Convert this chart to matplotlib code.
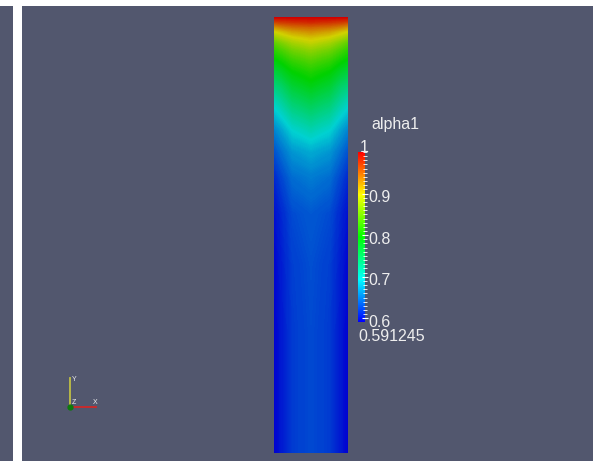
import numpy as np
import matplotlib
matplotlib.use("Agg")
import matplotlib.pyplot as plt
from matplotlib.colors import ListedColormap, Normalize, hsv_to_rgb
from matplotlib.cm import ScalarMappable
from matplotlib.patches import Rectangle
from matplotlib.transforms import offset_copy

plt.rcParams['font.family'] = ['Liberation Sans', 'DejaVu Sans']

field_name = "alpha1"
v_min, v_max = 0.591245, 1.0
cbar_ticks = [0.6, 0.7, 0.8, 0.9]
cbar_labels = ["0.6", "0.7", "0.8", "0.9"]

# sample heights up the column (domain 1 wide, 6 tall)
heights = [0.0, 0.7, 1.7, 2.6, 3.3, 3.8, 4.15, 4.45, 4.65, 4.85,
           5.05, 5.25, 5.4, 5.55, 5.65, 5.72, 5.8, 5.86, 5.93, 6.0]
# x positions from the wall to the centreline
half_x = [0.0, 0.1, 0.25, 0.5]
# alpha1 at each height: wall, near wall, quarter, centre
wall    = [0.592, 0.592, 0.592, 0.593, 0.598, 0.61, 0.63, 0.655, 0.68, 0.705,
           0.735, 0.765, 0.79, 0.815, 0.84, 0.865, 0.895, 0.925, 0.965, 1.0]
near    = [0.603, 0.603, 0.603, 0.605, 0.61, 0.625, 0.645, 0.67, 0.695, 0.72,
           0.745, 0.775, 0.80, 0.83, 0.855, 0.88, 0.905, 0.935, 0.97, 1.0]
quarter = [0.62, 0.62, 0.62, 0.622, 0.628, 0.645, 0.665, 0.695, 0.72, 0.745,
           0.77, 0.795, 0.82, 0.85, 0.875, 0.895, 0.92, 0.945, 0.975, 1.0]
centre  = [0.628, 0.628, 0.628, 0.63, 0.635, 0.652, 0.675, 0.71, 0.735, 0.76,
           0.785, 0.81, 0.835, 0.865, 0.89, 0.905, 0.93, 0.95, 0.98, 1.0]

# symmetric table across the width
half = np.column_stack([wall, near, quarter, centre])
V = np.hstack([half, half[:, -2::-1]])
xs = np.array(half_x + [1 - x for x in half_x[-2::-1]])
X, Y = np.meshgrid(xs, heights)

# blue -> red rainbow (HSV)
hues = np.linspace(2 / 3, 0, 256)
rgb = hsv_to_rgb(np.column_stack([hues, np.ones(256), np.ones(256)]))
rainbow = ListedColormap(rgb)
lit = ListedColormap(rgb * 0.82)
norm = Normalize(v_min, v_max)

W, H = 593, 461
fig = plt.figure(figsize=(W / 100, H / 100), dpi=100)
fig.patch.set_facecolor("white")

bg = fig.add_axes([0, 0, 1, 1])
bg.set_xlim(0, W)
bg.set_ylim(H, 0)
bg.axis("off")
panel = "#52576e"
bg.add_patch(Rectangle((0, 6), 13, H - 6, color=panel, lw=0))
bg.add_patch(Rectangle((22, 6), W - 22, H - 6, color=panel, lw=0))

# the column
ax = fig.add_axes([274 / W, (H - 453) / H, 74 / W, 436 / H])
ax.contourf(X, Y, V, levels=np.linspace(v_min, v_max, 300), cmap=lit,
            norm=norm, antialiased=False)
ax.set_xlim(0, 1)
ax.set_ylim(0, 6)
ax.axis("off")

# scalar bar
cax = fig.add_axes([358 / W, (H - 322) / H, 7 / W, 170 / H])
cb = fig.colorbar(ScalarMappable(norm=norm, cmap=rainbow), cax=cax)
cb.outline.set_visible(False)
cax.set_yticks(cbar_ticks)
cax.set_yticks(np.arange(0.6, 1.0001, 0.01), minor=True)
cax.tick_params(axis="y", which="major", direction="inout", length=5,
                width=0.8, color="white", labelright=False)
cax.tick_params(axis="y", which="minor", direction="inout", length=3,
                width=0.6, color="white")

txt = "#eeeeee"
lab_tr = offset_copy(cax.get_yaxis_transform(), fig=fig, x=0, y=-4, units="dots")
for v, s in zip(cbar_ticks, cbar_labels):
    cax.text(1.45, v, s, transform=lab_tr, color=txt, fontsize=11.5,
             ha="left", va="center")

bg.text(371, 129, field_name, color=txt, fontsize=11.5, ha="left", va="baseline")
bg.text(360, 152, "1", color=txt, fontsize=11.5, ha="left", va="baseline")
bg.text(358, 341, "%g" % v_min, color=txt, fontsize=11.5, ha="left", va="baseline")

# orientation axes
ox, oy = 70, 407
bg.plot([ox, ox], [oy, oy - 29], color="#bfbf45", lw=1.3)
bg.plot([ox, ox + 26], [oy, oy], color="#d02828", lw=1.3)
bg.plot([ox], [oy], "o", color="#0d7a0d", ms=3.5)
bg.text(ox + 2, oy - 28, "Y", color=txt, fontsize=5, ha="left", va="center")
bg.text(ox + 2, oy - 5, "Z", color=txt, fontsize=5, ha="left", va="center")
bg.text(ox + 23, oy - 5, "X", color=txt, fontsize=5, ha="left", va="center")

fig.savefig("out.png", dpi=100, facecolor="white")
